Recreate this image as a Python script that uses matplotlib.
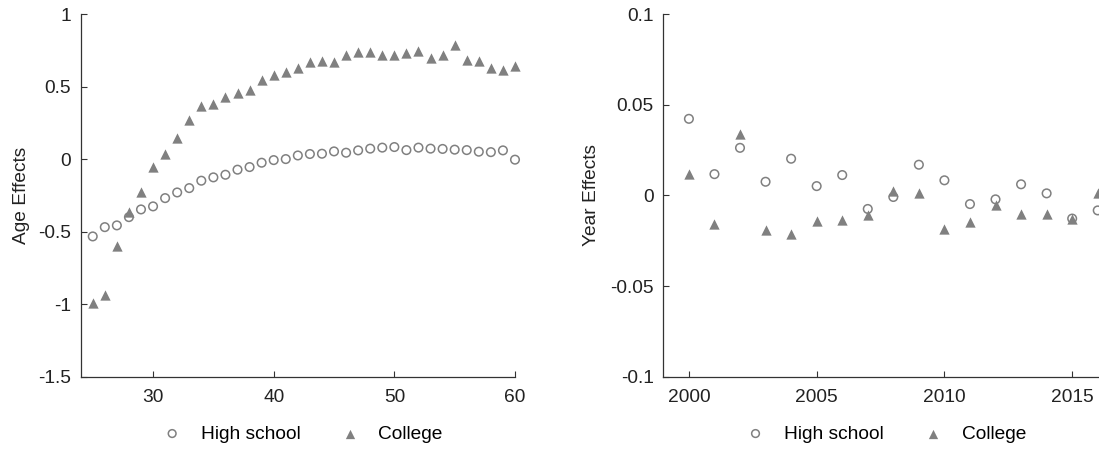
import matplotlib
matplotlib.use("Agg")
import matplotlib.pyplot as plt
import numpy as np

plt.rcParams["font.family"] = ["Liberation Sans", "DejaVu Sans"]

GREY = "#808080"
FS = 13.8

# ---- age effects (left) ----
AGES = list(range(25, 61))
AGE_HS = [-0.533, -0.469, -0.457, -0.400, -0.347, -0.326, -0.269, -0.230, -0.200, -0.149,
          -0.126, -0.108, -0.073, -0.055, -0.025, -0.007, 0.000, 0.025, 0.035, 0.037,
          0.053, 0.044, 0.060, 0.072, 0.079, 0.083, 0.062, 0.079, 0.072, 0.070,
          0.065, 0.062, 0.051, 0.048, 0.060, -0.004]
AGE_COL = [-0.993, -0.935, -0.602, -0.362, -0.230, -0.055, 0.035, 0.145, 0.267, 0.363,
           0.382, 0.428, 0.458, 0.474, 0.548, 0.582, 0.598, 0.628, 0.668, 0.674,
           0.667, 0.720, 0.738, 0.738, 0.715, 0.715, 0.731, 0.745, 0.697, 0.715,
           0.789, 0.686, 0.676, 0.628, 0.612, 0.644]

# ---- year effects (right) ----
YEARS = list(range(2000, 2017))
YEAR_HS = [0.0422, 0.0117, 0.0262, 0.0075, 0.0202, 0.0051, 0.0112, -0.0075, -0.0009,
           0.0169, 0.0083, -0.0048, -0.0022, 0.0061, 0.0011, -0.0128, -0.0083]
YEAR_COL = [0.0116, -0.0160, 0.0341, -0.0189, -0.0213, -0.0141, -0.0138, -0.0110, 0.0022,
            0.0015, -0.0183, -0.0145, -0.0051, -0.0101, -0.0101, -0.0128, 0.0013]

LABELS = ["High school", "College"]


def style(ax):
    for s in ("top", "right"):
        ax.spines[s].set_visible(False)
    for s in ("left", "bottom"):
        ax.spines[s].set_color("#333333")
        ax.spines[s].set_linewidth(0.9)
    ax.tick_params(direction="in", length=4, width=0.8, color="#333333",
                   labelsize=FS, labelcolor="#222222")
    ax.tick_params(axis="y", pad=7)
    ax.tick_params(axis="x", pad=9)


def draw(ax, x, hs, col):
    ax.scatter(x, hs, s=38, marker="o", facecolors="none", edgecolors=GREY,
               linewidths=1.1, label=LABELS[0], clip_on=False, zorder=3)
    ax.scatter(x, col, s=55, marker="^", color=GREY, linewidths=0,
               label=LABELS[1], clip_on=False, zorder=3)
    ax.legend(loc="upper center", bbox_to_anchor=(0.5, -0.086), ncol=2, frameon=False,
              fontsize=FS, handlelength=2, handletextpad=0.5, columnspacing=1.55,
              markerscale=0.9)


fig = plt.figure(figsize=(10.99, 4.49), dpi=100)
ax1 = fig.add_axes([0.0734, 0.161, 0.3952, 0.8078])
ax2 = fig.add_axes([0.6036, 0.161, 0.3964, 0.8078])

draw(ax1, AGES, AGE_HS, AGE_COL)
ax1.set_xlim(24, 60)
ax1.set_ylim(-1.5, 1)
ax1.set_xticks([30, 40, 50, 60])
ax1.set_yticks([-1.5, -1, -0.5, 0, 0.5, 1])
ax1.set_yticklabels(["-1.5", "-1", "-0.5", "0", "0.5", "1"])
ax1.set_ylabel("Age Effects", fontsize=FS, labelpad=6, color="#222222")
style(ax1)

draw(ax2, YEARS, YEAR_HS, YEAR_COL)
ax2.set_xlim(1999, 2016.05)
ax2.set_ylim(-0.1, 0.1)
ax2.set_xticks([2000, 2005, 2010, 2015])
ax2.set_yticks([-0.1, -0.05, 0, 0.05, 0.1])
ax2.set_yticklabels(["-0.1", "-0.05", "0", "0.05", "0.1"])
ax2.set_ylabel("Year Effects", fontsize=FS, labelpad=7, color="#222222")
style(ax2)

fig.savefig("out.png", dpi=100)
